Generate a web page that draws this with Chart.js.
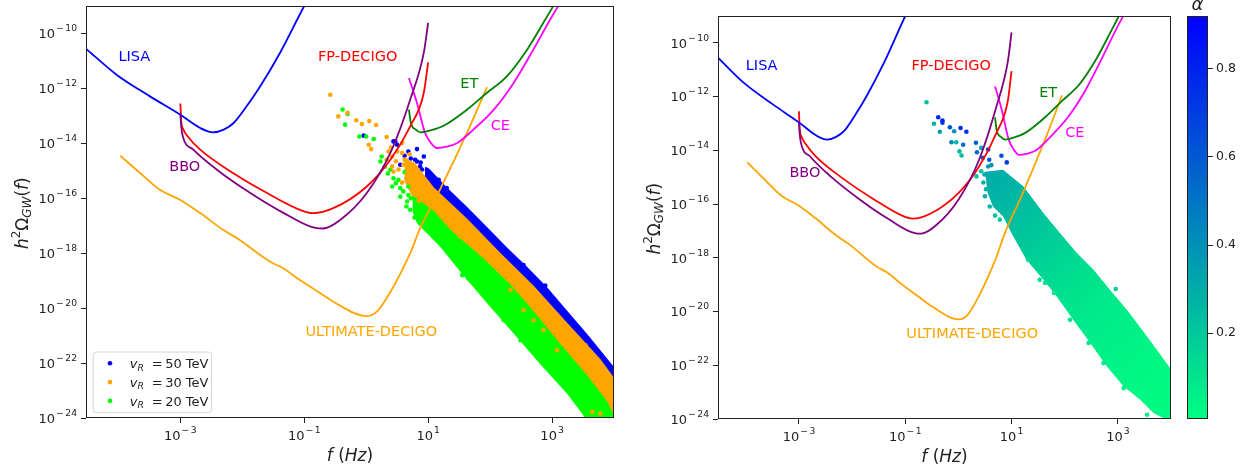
<!DOCTYPE html>
<html>
<head>
<meta charset="utf-8">
<script src="https://cdn.jsdelivr.net/npm/chart.js@4.4.0/dist/chart.umd.min.js"></script>
<style>
  body { margin: 0; background: #fff; width: 1247px; height: 472px; overflow: hidden; position: relative; }
  canvas { position: absolute; top: 0; }
  #left { left: 0; }
  #right { left: 630px; }
  #cbar { left: 1180px; }
</style>
</head>
<body>
<canvas id="left" width="630" height="472"></canvas>
<canvas id="right" width="550" height="472"></canvas>
<canvas id="cbar" width="67" height="472"></canvas>
<script>
// Axis ranges and ticks (exponents of 10)
const F_MIN = 3e-5, F_MAX = 1e4, OMEGA_MIN = 1e-24, OMEGA_MAX = 1e-9;
const xTickExps = [-3, -1, 1, 3];
const yTickExps = [-24, -22, -20, -18, -16, -14, -12, -10];
const alphaTicks = [0.2, 0.4, 0.6, 0.8];
const ALPHA_MIN = 0.005, ALPHA_MAX = 0.92;

// Sensitivity curves: [log10 f, log10 h^2 Omega]
const lisa = [[-4.52,-10.56],[-4.03,-11.50],[-3.49,-12.29],[-3.0,-12.96],[-2.68,-13.44],[-2.47,-13.60],
  [-2.30,-13.50],[-2.14,-13.26],[-1.93,-12.65],[-1.71,-11.92],[-1.39,-10.70],[-1.0,-9.0],[-0.9,-8.6]];
const bbo = [[-3.0,-12.95],[-2.985,-13.4],[-2.96,-13.75],[-2.79,-14.23],[-2.41,-14.96],[-1.87,-15.81],
  [-1.33,-16.54],[-0.80,-17.09],[-0.70,-17.10],[-0.42,-16.79],[0.01,-15.81],[0.39,-14.35],[0.71,-12.41],
  [0.93,-10.70],[1.0,-9.61]];
const fpDecigo = [[-3.0,-12.55],[-2.985,-13.2],[-2.95,-13.5],[-2.88,-13.75],[-2.68,-14.23],[-2.15,-15.08],
  [-1.60,-15.81],[-1.07,-16.42],[-0.86,-16.54],[-0.53,-16.36],[0.01,-15.57],[0.39,-14.60],[0.71,-13.38],
  [0.93,-12.16],[1.0,-11.05]];
const et = [[0.69,-12.77],[0.72,-13.25],[0.80,-13.5],[0.88,-13.6],[1.05,-13.52],[1.25,-13.36],[1.63,-12.77],
  [1.95,-12.16],[2.27,-11.56],[2.60,-10.58],[2.86,-9.61],[3.02,-9.0]];
const ce = [[0.69,-11.62],[0.82,-12.53],[0.95,-13.62],[1.05,-14.0],[1.14,-14.17],[1.30,-14.12],[1.47,-13.99],
  [1.73,-13.50],[2.06,-12.77],[2.38,-11.80],[2.70,-10.58],[2.97,-9.49],[3.10,-9.0]];
const ultimateDecigo = [[-3.97,-14.45],[-3.65,-15.08],[-3.33,-15.69],[-3.0,-16.06],[-2.68,-16.54],
  [-2.31,-17.15],[-2.06,-17.49],[-1.55,-18.31],[-1.34,-18.55],[-1.07,-18.98],[-0.74,-19.46],[-0.53,-19.77],
  [0.01,-20.29],[0.17,-20.13],[0.39,-19.41],[0.55,-18.75],[0.71,-18.0],[0.87,-17.1],[1.19,-15.69],
  [1.65,-13.5],[1.95,-11.95]];

const curves = [lisa, bbo, fpDecigo, et, ce, ultimateDecigo];
const curveNames = ['LISA', 'BBO', 'FP-DECIGO', 'ET', 'CE', 'ULTIMATE-DECIGO'];
const curveColors = ['#0000ff', '#800080', '#ff0000', '#008000', '#ff00ff', '#ffa500'];
// where each name sits: [log10 f, log10 Omega]
const labelAt = [[-4.0,-11.0],[-3.18,-15.0],[-0.137,-11.0],[1.52,-12.0],[2.01,-13.5],[-0.98,-21.0]];
const labelAlign = ['left', 'left', 'center', 'left', 'left', 'left'];

// Left panel: dense bands (outline polygons) and loose points
const legendTeV = ['50', '30', '20'];
const seriesColors = ['#0000ff', '#ffa500', '#00ff00'];
const band50 = [[0.95,-14.85],[1.03,-14.95],[1.30,-15.6],[1.63,-16.32],[1.95,-17.05],[2.27,-17.78],
  [2.60,-18.5],[2.92,-19.24],[3.24,-20.09],[3.57,-20.95],[4.02,-22.2],
  [4.02,-23.0],[3.78,-22.3],[3.24,-20.95],[2.70,-19.6],[2.16,-18.4],[1.63,-17.2],[1.09,-16.0],[0.95,-15.6]];
const band30 = [[0.62,-14.5],[0.80,-14.75],[1.09,-15.6],[1.63,-16.75],[2.16,-17.97],[2.70,-19.18],
  [3.24,-20.52],[3.78,-21.85],[4.02,-22.6],
  [4.02,-24.3],[3.89,-23.6],[3.57,-22.8],[3.13,-21.6],[2.70,-20.4],[2.33,-19.45],[1.90,-18.5],
  [1.36,-17.5],[1.09,-16.75],[0.80,-16.2],[0.62,-15.4]];
const band20 = [[0.75,-15.9],[1.09,-16.45],[1.36,-17.15],[1.90,-18.2],[2.33,-19.15],[2.70,-20.1],
  [3.13,-21.3],[3.57,-22.45],[3.89,-23.4],[4.02,-24.0],
  [4.02,-24.3],[3.57,-24.1],[3.24,-23.11],[2.80,-22.02],[2.43,-21.05],[2.0,-19.95],[1.63,-18.98],
  [1.19,-17.76],[0.82,-16.91],[0.75,-16.5]];
const pts50 = [[-0.04,-13.72],[0.44,-13.93],[0.47,-13.93],[0.50,-14.05],[0.55,-14.78],[0.79,-14.60],
  [0.82,-14.21],[0.87,-14.84],[0.93,-14.48],[0.98,-14.96],[0.82,-14.66],[1.17,-15.33],[1.30,-15.63],
  [0.62,-14.45],[0.68,-14.3],[0.72,-14.55],[0.88,-14.7],[0.90,-14.95],[2.54,-18.43],[2.89,-19.18]];
const pts30 = [[-0.58,-12.23],[-0.45,-13.02],[-0.30,-12.89],[-0.16,-13.16],[-0.07,-13.30],[0.05,-13.19],
  [0.16,-13.33],[0.04,-14.05],[0.08,-14.21],[0.33,-13.77],[0.50,-14.30],[0.58,-13.99],[0.58,-14.35],
  [0.33,-14.60],[0.42,-14.84],[0.44,-15.03],[0.66,-14.90],[0.76,-14.78],[0.87,-15.15],[0.42,-14.48],
  [0.60,-14.78],[0.66,-15.08],[0.58,-15.43],[0.62,-14.6],[0.70,-14.95],[0.72,-15.25],[0.65,-15.3],
  [0.52,-14.95],[0.48,-14.65],[0.36,-14.3],[0.40,-14.15],[0.70,-14.4],[0.76,-15.6],[0.85,-16.1],
  [1.52,-17.40],[1.79,-17.82],[2.11,-18.49],[2.33,-19.34],[2.54,-20.07],[2.70,-20.44],[2.86,-20.80],
  [3.08,-21.53],[3.54,-21.35],[3.65,-23.78],[3.78,-23.84]];
const pts20 = [[-0.38,-12.77],[-0.30,-12.93],[-0.34,-13.32],[-0.11,-13.75],[0.0,-13.75],[0.12,-13.84],
  [0.25,-14.48],[0.23,-14.66],[0.39,-14.96],[0.44,-15.27],[0.52,-15.33],[0.42,-15.57],[0.55,-15.63],
  [0.68,-15.57],[0.68,-15.88],[0.55,-15.94],[0.66,-16.12],[0.71,-16.42],[0.60,-15.75],[0.65,-16.3],
  [0.72,-16.0],[0.48,-15.45],[0.35,-15.1],[0.30,-14.85],[0.62,-15.05],[0.78,-16.7],[0.92,-16.75],
  [1.55,-18.80],[1.65,-18.92],[1.87,-19.41],[2.22,-20.44],[2.49,-21.17],[2.76,-21.65],[3.03,-22.38],
  [3.35,-23.24],[3.49,-23.42],[3.59,-23.91]];

// Right panel: whole sample, coloured by alpha
const bandAll = [[0.50,-14.8],[0.84,-14.72],[1.22,-15.34],[1.60,-16.33],[1.91,-17.08],[2.23,-17.82],
  [2.54,-18.44],[2.85,-19.19],[3.17,-19.93],[3.55,-20.93],[4.02,-22.2],
  [4.02,-24.2],[3.86,-23.97],[3.67,-23.78],[3.42,-23.28],[3.11,-22.79],[2.79,-22.04],[2.48,-21.17],
  [2.16,-20.31],[1.85,-19.44],[1.60,-18.82],[1.28,-18.07],[1.03,-17.20],[0.84,-16.46],[0.65,-16.09],
  [0.55,-15.59]];
const bandAlpha = [0.30, 0.24, 0.17, 0.11, 0.07, 0.04, 0.02];
const ptsAll = [[-0.60,-12.21,0.22],[-0.38,-12.77,0.78],[-0.30,-12.89,0.8],[-0.30,-12.97,0.75],
  [-0.46,-13.01,0.28],[-0.16,-13.14,0.62],[-0.35,-13.31,0.35],[-0.08,-13.29,0.4],[0.04,-13.17,0.78],
  [0.15,-13.31,0.75],[-0.13,-13.70,0.45],[-0.04,-13.70,0.25],[0.09,-13.79,0.55],[0.02,-14.04,0.25],
  [0.06,-14.19,0.25],[0.33,-13.72,0.6],[0.35,-14.07,0.55],[0.43,-13.91,0.3],[0.46,-14.28,0.55],
  [0.56,-13.97,0.7],[0.58,-14.35,0.6],[0.81,-14.20,0.65],[0.91,-14.45,0.7],[0.43,-14.78,0.25],
  [0.34,-14.97,0.2],[0.49,-14.90,0.3],[0.50,-15.71,0.3],[0.59,-16.09,0.25],[0.69,-16.43,0.22],
  [0.78,-16.58,0.2],[0.47,-15.2,0.3],[0.52,-15.45,0.28],[0.56,-14.6,0.35],[0.62,-14.55,0.4],
  [1.31,-18.07,0.15],[1.53,-18.82,0.12],[1.63,-18.94,0.12],[1.80,-19.31,0.1],
  [2.10,-20.31,0.1],[2.45,-21.17,0.08],[2.73,-21.92,0.08],[3.11,-22.85,0.06],[3.55,-23.84,0.04],
  [3.80,-23.78,0.04],[2.96,-19.16,0.18]];

const FONT = '"DejaVu Sans", sans-serif';
const rm = s => s + 'px ' + FONT;
const it = s => 'italic ' + s + 'px ' + FONT;
const toXY = arr => arr.map(p => ({ x: 10 ** p[0], y: 10 ** p[1] }));

// winter_r colour map
function cmap(a) {
  let v = (a - ALPHA_MIN) / (ALPHA_MAX - ALPHA_MIN);
  v = Math.min(1, Math.max(0, v));
  return 'rgb(0,' + Math.round(255 * (1 - v)) + ',' + Math.round(255 * (0.5 + 0.5 * v)) + ')';
}

// text made of pieces with own font, vertical shift and extra gap
function richWidth(ctx, pieces) {
  let w = 0;
  pieces.forEach(p => { ctx.font = p.f; w += ctx.measureText(p.t).width + (p.gap || 0); });
  return w;
}
function drawRich(ctx, pieces, x, y) {
  ctx.textAlign = 'left';
  ctx.textBaseline = 'alphabetic';
  pieces.forEach(p => {
    ctx.font = p.f;
    ctx.fillText(p.t, x, y + (p.dy || 0));
    x += ctx.measureText(p.t).width + (p.gap || 0);
  });
}
function powPieces(e) {
  const pc = [{ t: '10', f: rm(13), gap: 1 }];
  if (e < 0) pc.push({ t: '\u2212', f: rm(9.2), dy: -7, gap: 1.5 });
  pc.push({ t: String(Math.abs(e)), f: rm(9.2), dy: -7 });
  return pc;
}

const yTitle = [{ t: 'h', f: it(17) }, { t: '2', f: rm(12), dy: -7.5 }, { t: '\u03A9', f: rm(17) },
  { t: 'GW', f: it(12), dy: 3.5 }, { t: '(', f: rm(17) }, { t: 'f', f: it(17) }, { t: ')', f: rm(17) }];
const xTitle = [{ t: 'f', f: it(17) }, { t: ' ', f: rm(17) }, { t: '(', f: rm(17) },
  { t: 'Hz', f: it(17) }, { t: ')', f: rm(17) }];

const decor = {
  id: 'decor',
  afterDraw(chart, args, o) {
    const ctx = chart.ctx, a = chart.chartArea, sx = chart.scales.x, sy = chart.scales.y;
    ctx.save();
    ctx.strokeStyle = '#222';
    ctx.lineWidth = 1;
    ctx.strokeRect(a.left + 0.5, a.top + 0.5, a.right - a.left - 1, a.bottom - a.top - 1);

    ctx.fillStyle = '#222';
    xTickExps.forEach(e => {
      const pc = powPieces(e), w = richWidth(ctx, pc);
      drawRich(ctx, pc, sx.getPixelForValue(10 ** e) - w / 2, a.bottom + 22.4);
    });
    yTickExps.forEach(e => {
      const pc = powPieces(e), w = richWidth(ctx, pc);
      drawRich(ctx, pc, a.left - 9 - w, sy.getPixelForValue(10 ** e) + 4.8);
    });

    // axis titles
    const xw = richWidth(ctx, xTitle);
    drawRich(ctx, xTitle, (a.left + a.right) / 2 - xw / 2, a.bottom + 42.5);
    const yw = richWidth(ctx, yTitle);
    ctx.save();
    ctx.translate(a.left - 58.5, (a.top + a.bottom) / 2 + 1.2);
    ctx.rotate(-Math.PI / 2);
    drawRich(ctx, yTitle, -yw / 2, 0);
    ctx.restore();

    // detector names
    ctx.font = rm(14.5);
    ctx.textBaseline = 'alphabetic';
    curveNames.forEach((n, i) => {
      ctx.fillStyle = curveColors[i];
      ctx.textAlign = labelAlign[i];
      ctx.fillText(n, sx.getPixelForValue(10 ** labelAt[i][0]), sy.getPixelForValue(10 ** labelAt[i][1]));
    });

    if (o.legend) {
      const bx = a.left + 6.7, by = a.bottom - 66.5, bw = 118.3, bh = 60.6;
      ctx.beginPath();
      ctx.roundRect(bx + 0.5, by + 0.5, bw, bh, 3);
      ctx.fillStyle = 'rgba(255,255,255,0.8)';
      ctx.fill();
      ctx.strokeStyle = '#d4d4d4';
      ctx.stroke();
      legendTeV.forEach((v, i) => {
        const cy = by + 11.8 + i * 18.8;
        ctx.beginPath();
        ctx.arc(bx + 17.3, cy, 2.3, 0, Math.PI * 2);
        ctx.fillStyle = seriesColors[i];
        ctx.fill();
        ctx.fillStyle = '#222';
        drawRich(ctx, [{ t: 'v', f: it(13) }, { t: 'R', f: it(9.2), dy: 2.5 }], bx + 37, cy + 4.7);
        drawRich(ctx, [{ t: '=', f: rm(13) }], bx + 59, cy + 4.7);
        drawRich(ctx, [{ t: v + ' TeV', f: rm(13) }], bx + 72.5, cy + 4.7);
      });
    }
    ctx.restore();
  }
};

function logScales(yWidth, xHeight) {
  const grid = { drawOnChartArea: false, drawTicks: true, tickLength: 5, color: '#222', lineWidth: 1 };
  return {
    x: {
      type: 'logarithmic', min: F_MIN, max: F_MAX, bounds: 'data',
      afterBuildTicks: s => { s.ticks = xTickExps.map(e => ({ value: 10 ** e })); },
      afterFit: s => { s.height = xHeight; },
      ticks: { display: false }, grid: grid, border: { display: false }
    },
    y: {
      type: 'logarithmic', min: OMEGA_MIN, max: OMEGA_MAX, bounds: 'data',
      afterBuildTicks: s => { s.ticks = yTickExps.map(e => ({ value: 10 ** e })); },
      afterFit: s => { s.width = yWidth; },
      ticks: { display: false }, grid: grid, border: { display: false }
    }
  };
}

function curveSets() {
  return curves.map((c, i) => ({
    data: toXY(c), borderColor: curveColors[i], borderWidth: 1.8, pointRadius: 0,
    fill: false, cubicInterpolationMode: 'monotone', order: 0
  }));
}
function bandSet(poly, color, order) {
  return { data: toXY(poly), borderWidth: 0, borderColor: 'rgba(0,0,0,0)', pointRadius: 0,
    backgroundColor: color, fill: 'shape', tension: 0, order: order };
}
function pointSet(pts, color, order) {
  return { data: toXY(pts), showLine: false, pointRadius: 2.3, pointBorderWidth: 0,
    pointBackgroundColor: color, pointBorderColor: color, order: order };
}

const common = {
  responsive: false, animation: false, events: [],
  plugins: { legend: { display: false }, tooltip: { enabled: false } }
};

new Chart(document.getElementById('left'), {
  type: 'line',
  data: {
    datasets: [
      bandSet(band50, seriesColors[0], 9), pointSet(pts50, seriesColors[0], 8),
      bandSet(band30, seriesColors[1], 7), pointSet(pts30, seriesColors[1], 4),
      bandSet(band20, seriesColors[2], 6), pointSet(pts20, seriesColors[2], 5)
    ].concat(curveSets())
  },
  options: Object.assign({}, common, {
    layout: { padding: { left: 0, top: 6, right: 16, bottom: 0 } },
    scales: logScales(86, 54),
    plugins: Object.assign({}, common.plugins, { decor: { legend: true } })
  }),
  plugins: [decor]
});

const gradFrom = [0.5, -15.2], gradTo = [4.0, -23.0];
const rightBand = bandSet(bandAll, c => {
  const ch = c.chart;
  if (!ch.chartArea) return cmap(0.1);
  const sx = ch.scales.x, sy = ch.scales.y;
  const g = ch.ctx.createLinearGradient(
    sx.getPixelForValue(10 ** gradFrom[0]), sy.getPixelForValue(10 ** gradFrom[1]),
    sx.getPixelForValue(10 ** gradTo[0]), sy.getPixelForValue(10 ** gradTo[1]));
  bandAlpha.forEach((al, i) => g.addColorStop(i / (bandAlpha.length - 1), cmap(al)));
  return g;
}, 9);
const rightPts = pointSet(ptsAll, ptsAll.map(p => cmap(p[2])), 8);

new Chart(document.getElementById('right'), {
  type: 'line',
  data: { datasets: [rightBand, rightPts].concat(curveSets()) },
  options: Object.assign({}, common, {
    layout: { padding: { left: 0, top: 16, right: 9, bottom: 0 } },
    scales: logScales(88, 53),
    plugins: Object.assign({}, common.plugins, { decor: { legend: false } })
  }),
  plugins: [decor]
});

// colour bar
new Chart(document.getElementById('cbar'), {
  type: 'line',
  data: { labels: [], datasets: [] },
  options: Object.assign({}, common, {
    layout: { padding: { left: 7, top: 16, right: 0, bottom: 53 } },
    scales: {
      x: { display: false },
      y: {
        type: 'linear', position: 'right', min: ALPHA_MIN, max: ALPHA_MAX,
        afterBuildTicks: s => { s.ticks = alphaTicks.map(v => ({ value: v })); },
        afterFit: s => { s.width = 39; },
        ticks: { font: { family: FONT, size: 12.5 }, color: '#222', padding: 3,
          callback: v => v.toFixed(1) },
        grid: { drawOnChartArea: false, drawTicks: true, tickLength: 5, color: '#222' },
        border: { display: false }
      }
    }
  }),
  plugins: [{
    id: 'cbarFill',
    beforeDraw(chart) {
      const ctx = chart.ctx, a = chart.chartArea;
      const g = ctx.createLinearGradient(0, a.top, 0, a.bottom);
      g.addColorStop(0, cmap(ALPHA_MAX));
      g.addColorStop(1, cmap(ALPHA_MIN));
      ctx.save();
      ctx.fillStyle = g;
      ctx.fillRect(a.left, a.top, a.right - a.left, a.bottom - a.top);
      ctx.strokeStyle = '#222';
      ctx.lineWidth = 1;
      ctx.strokeRect(a.left + 0.5, a.top + 0.5, a.right - a.left - 1, a.bottom - a.top - 1);
      ctx.font = it(18);
      ctx.fillStyle = '#222';
      ctx.textAlign = 'center';
      ctx.fillText('\u03B1', (a.left + a.right) / 2, 10);
      ctx.restore();
    }
  }]
});
</script>
</body>
</html>
